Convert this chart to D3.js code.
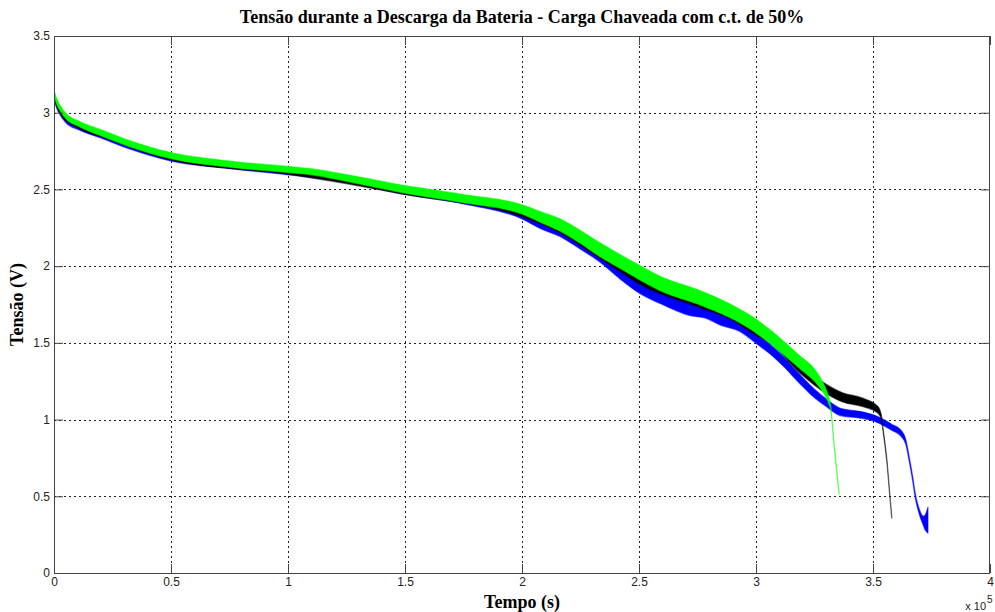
<!DOCTYPE html>
<html>
<head>
<meta charset="utf-8">
<script src="https://cdn.jsdelivr.net/npm/d3@7"></script>
<style>
  html, body { margin: 0; padding: 0; background: #fff; }
  svg { display: block; }
</style>
</head>
<body>
<svg id="chart" width="995" height="612"></svg>
<script>
// Battery discharge voltage under switched load (50% duty cycle).
// Each series: time (s), mean voltage (V), half ripple amplitude (V).
const tGreen = [0, 1000, 2600, 5000, 11000, 20000, 32000, 50000, 75000, 100000, 110000, 125000, 150000, 175000, 200000, 208000, 216000, 225000, 233000, 242000, 250000, 260000, 275000, 290000, 300000, 306000, 319000, 325000, 329000, 331000, 332000, 333000, 334000, 335500];
const vGreen = [3.13, 3.08, 3.03, 2.98, 2.925, 2.87, 2.80, 2.72, 2.665, 2.63, 2.615, 2.575, 2.50, 2.44, 2.37, 2.32, 2.27, 2.19, 2.11, 2.03, 1.96, 1.88, 1.80, 1.70, 1.61, 1.54, 1.37, 1.29, 1.20, 1.13, 1.07, 0.90, 0.74, 0.52];
const rGreen = [0.018, 0.018, 0.018, 0.018, 0.018, 0.02, 0.02, 0.02, 0.02, 0.02, 0.02, 0.022, 0.025, 0.027, 0.03, 0.035, 0.04, 0.042, 0.045, 0.045, 0.047, 0.047, 0.047, 0.045, 0.045, 0.045, 0.042, 0.04, 0.03, 0.02, 0.012, 0.007, 0.006, 0.005];

const tBlack = [0, 2600, 11000, 20000, 50000, 100000, 150000, 200000, 216000, 233000, 242000, 250000, 275000, 290000, 300000, 306000, 319000, 330000, 337000, 345000, 352000, 353500, 354500, 356000, 357000, 358000];
const vBlack = [3.11, 3.01, 2.91, 2.86, 2.71, 2.62, 2.49, 2.35, 2.25, 2.09, 2.00, 1.92, 1.77, 1.68, 1.58, 1.53, 1.33, 1.20, 1.145, 1.115, 1.065, 1.02, 0.91, 0.72, 0.54, 0.365];
const rBlack = [0.015, 0.015, 0.015, 0.015, 0.018, 0.02, 0.022, 0.028, 0.03, 0.035, 0.035, 0.035, 0.035, 0.033, 0.03, 0.03, 0.03, 0.03, 0.03, 0.028, 0.022, 0.015, 0.01, 0.01, 0.009, 0.008];

const tBlue = [0, 1000, 2600, 5000, 11000, 20000, 32000, 50000, 75000, 100000, 125000, 150000, 175000, 200000, 208000, 216000, 225000, 233000, 242000, 250000, 260000, 272000, 278000, 285000, 293000, 300000, 306000, 312000, 319000, 325000, 330000, 336000, 345000, 352000, 358000, 362000, 364000, 365500, 367000, 368000, 370000, 371500, 372500, 373500];
const vBlue = [3.10, 3.05, 3.00, 2.95, 2.90, 2.85, 2.78, 2.70, 2.65, 2.61, 2.56, 2.485, 2.425, 2.33, 2.27, 2.225, 2.145, 2.07, 1.955, 1.865, 1.79, 1.715, 1.70, 1.65, 1.61, 1.53, 1.46, 1.375, 1.26, 1.17, 1.11, 1.05, 1.03, 1.00, 0.95, 0.91, 0.855, 0.74, 0.61, 0.51, 0.39, 0.34, 0.33, 0.345];
const rBlue = [0.014, 0.014, 0.014, 0.014, 0.014, 0.015, 0.015, 0.015, 0.015, 0.015, 0.016, 0.018, 0.02, 0.022, 0.026, 0.03, 0.035, 0.04, 0.04, 0.04, 0.04, 0.038, 0.037, 0.036, 0.035, 0.033, 0.032, 0.032, 0.03, 0.028, 0.025, 0.024, 0.022, 0.02, 0.02, 0.02, 0.016, 0.015, 0.015, 0.015, 0.018, 0.03, 0.055, 0.085];

const xTicks = [0, 50000, 100000, 150000, 200000, 250000, 300000, 350000, 400000];
const yTicks = [0, 0.5, 1, 1.5, 2, 2.5, 3, 3.5];

const titleText = "Tensão durante a Descarga da Bateria - Carga Chaveada com c.t. de 50%";
const xLabel = "Tempo (s)";
const yLabel = "Tensão (V)";

const series = [
  { name: "azul", color: "#0000ff", t: tBlue, v: vBlue, r: rBlue },
  { name: "preto", color: "#000000", t: tBlack, v: vBlack, r: rBlack },
  { name: "verde", color: "#00ff00", t: tGreen, v: vGreen, r: rGreen }
];

const W = 995, H = 612;
const margin = { left: 54, right: 5, top: 36, bottom: 39 };
const iw = W - margin.left - margin.right;
const ih = H - margin.top - margin.bottom;

const svg = d3.select("#chart");
const x = d3.scaleLinear().domain([0, 400000]).range([0, iw]);
const y = d3.scaleLinear().domain([0, 3.5]).range([ih, 0]);

const g = svg.append("g").attr("transform", `translate(${margin.left},${margin.top})`);

svg.append("defs").append("clipPath").attr("id", "plotclip")
  .append("rect").attr("width", iw).attr("height", ih);

// dotted grid
const grid = g.append("g").attr("class", "grid");
grid.selectAll("line.vx").data(xTicks.slice(1, -1)).join("line")
  .attr("x1", d => Math.round(x(d)) + 0.5).attr("x2", d => Math.round(x(d)) + 0.5)
  .attr("y1", 0).attr("y2", ih)
  .attr("stroke", "#222").attr("stroke-width", 1).attr("stroke-dasharray", "2,3");
grid.selectAll("line.hy").data(yTicks.slice(1, -1)).join("line")
  .attr("y1", d => Math.round(y(d)) + 0.5).attr("y2", d => Math.round(y(d)) + 0.5)
  .attr("x1", 0).attr("x2", iw)
  .attr("stroke", "#222").attr("stroke-width", 1).attr("stroke-dasharray", "2,3");

// ripple bands
const area = d3.area()
  .x(d => x(d.t))
  .y0(d => y(d.v - d.r))
  .y1(d => y(d.v + d.r))
  .curve(d3.curveMonotoneX);

const plot = g.append("g").attr("clip-path", "url(#plotclip)");
series.forEach(s => {
  const pts = s.t.map((t, i) => ({ t, v: s.v[i], r: s.r[i] }));
  plot.append("path").datum(pts)
    .attr("d", area)
    .attr("fill", s.color)
    .attr("stroke", s.color)
    .attr("stroke-opacity", 0.55)
    .attr("stroke-width", 1.2)
    .attr("stroke-linejoin", "round");
});

// axes (ticks inside, on all four sides)
const tickLen = 9;
const fmtX = d => d3.format("~g")(d / 1e5);
const axisColor = "#444";

const xb = g.append("g").attr("transform", `translate(0,${ih})`)
  .call(d3.axisBottom(x).tickValues(xTicks).tickSize(-tickLen).tickPadding(4).tickFormat(fmtX));
const xt = g.append("g")
  .call(d3.axisTop(x).tickValues(xTicks).tickSize(-tickLen).tickFormat(""));
const yl = g.append("g")
  .call(d3.axisLeft(y).tickValues(yTicks).tickSize(-tickLen).tickPadding(4).tickFormat(d3.format("~g")));
const yr = g.append("g").attr("transform", `translate(${iw},0)`)
  .call(d3.axisRight(y).tickValues(yTicks).tickSize(-tickLen).tickFormat(""));

[xb, xt, yl, yr].forEach(a => {
  a.select(".domain").remove();
  a.selectAll(".tick line").attr("stroke", axisColor);
  a.selectAll("text").attr("fill", "#222")
    .style("font-family", "'Liberation Sans', Arial, sans-serif").style("font-size", "12px");
});

g.append("rect").attr("x", 0.5).attr("y", 0.5).attr("width", iw - 1).attr("height", ih)
  .attr("fill", "none").attr("stroke", axisColor).attr("stroke-width", 1);

// exponent
svg.append("text").attr("x", 986).attr("y", 610)
  .attr("text-anchor", "end")
  .style("font-family", "'Liberation Sans', Arial, sans-serif").style("font-size", "11px")
  .attr("fill", "#222").text("x 10");
svg.append("text").attr("x", 987).attr("y", 603)
  .style("font-family", "'Liberation Sans', Arial, sans-serif").style("font-size", "10px")
  .attr("fill", "#222").text("5");

// titles
svg.append("text").attr("x", margin.left + iw / 2).attr("y", 23)
  .attr("text-anchor", "middle")
  .style("font-family", "'Liberation Serif', 'Times New Roman', serif")
  .style("font-weight", "bold").style("font-size", "18px")
  .text(titleText);
svg.append("text").attr("x", margin.left + iw / 2).attr("y", 608)
  .attr("text-anchor", "middle")
  .style("font-family", "'Liberation Serif', 'Times New Roman', serif")
  .style("font-weight", "bold").style("font-size", "18px")
  .text(xLabel);
svg.append("text")
  .attr("transform", `translate(23,${margin.top + ih / 2}) rotate(-90)`)
  .attr("text-anchor", "middle")
  .style("font-family", "'Liberation Serif', 'Times New Roman', serif")
  .style("font-weight", "bold").style("font-size", "18px")
  .text(yLabel);
</script>
</body>
</html>
